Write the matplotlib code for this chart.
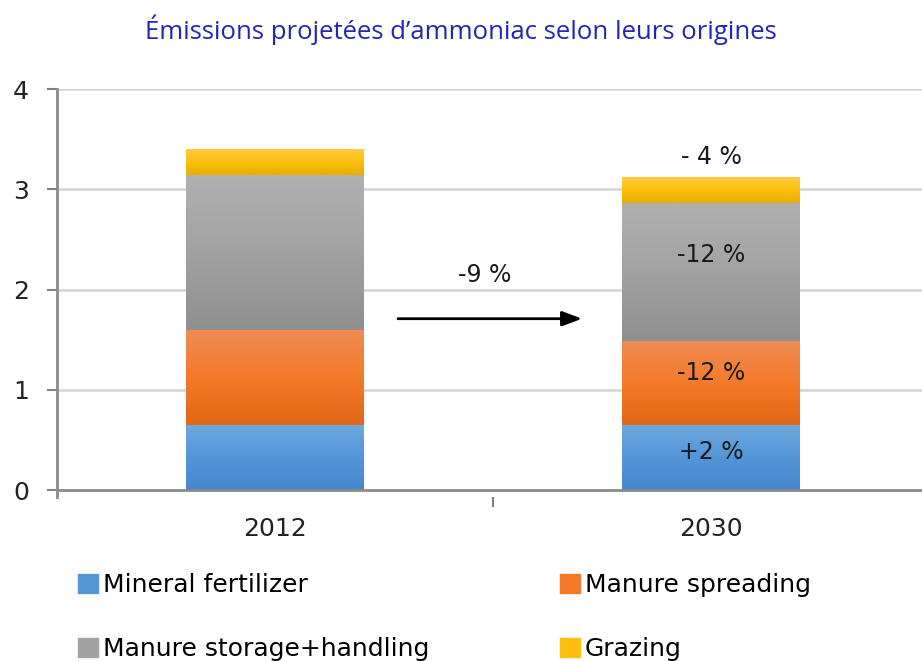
import matplotlib.pyplot as plt
import numpy as np
from matplotlib.colors import LinearSegmentedColormap
from matplotlib.patches import Rectangle

# === DONNÉES ===
annees = ["2012", "2030"]
sources = ["Mineral fertilizer", "Manure spreading", "Manure storage+handling", "Grazing"]
mineral = [0.65, 0.65]
epandage = [0.95, 0.84]
stockage = [1.54, 1.37]
paturage = [0.26, 0.26]
etiquettes_2030 = ["+2 %", "-12 %", "-12 %", "- 4 %"]
variation_totale = "-9 %"

# dégradés (haut -> bas)
degrades = [
    ["#6fa8de", "#5396d8", "#4487cb"],
    ["#f08c55", "#f47a2a", "#e26818"],
    ["#b0b0b0", "#a2a2a2", "#8f8f8f"],
    ["#ffcb45", "#fdc010", "#e9ae00"],
]
couleurs_legende = ["#5396d8", "#f47a2a", "#a2a2a2", "#fdc010"]

# === FIGURE ===
fig = plt.figure(figsize=(9.22, 6.61), dpi=100)
ax = fig.add_axes([0.0618, 0.248, 0.946, 0.617])

x = np.arange(len(annees))
largeur = 0.408
series = [mineral, epandage, stockage, paturage]
bas = np.zeros(len(annees))
for serie, deg in zip(series, degrades):
    cmap = LinearSegmentedColormap.from_list("g", deg[::-1])
    barres = ax.bar(x, serie, largeur, bottom=bas, color=deg[1], linewidth=0, zorder=2)
    for b in barres:
        x0, y0 = b.get_x(), b.get_y()
        x1, y1 = x0 + b.get_width(), y0 + b.get_height()
        grad = np.linspace(0, 1, 100).reshape(-1, 1)
        im = ax.imshow(grad, extent=[x0, x1, y0, y1], origin="lower", aspect="auto",
                       cmap=cmap, zorder=3)
        im.set_clip_path(b)
    bas += np.array(serie)

# étiquettes 2030
cumul = np.cumsum([s[1] for s in series])
debut = np.concatenate([[0], cumul[:-1]])
decalage = [0.05, 0.1, 0.17, 0.0]
for i, (lab, d, c) in enumerate(zip(etiquettes_2030, debut, cumul)):
    if i == 3:
        y = c + 0.2
    else:
        y = (d + c) / 2 + decalage[i]
    ax.text(x[1], y, lab, ha="center", va="center", fontsize=17, color="#1a1a1a",
            zorder=5)

# flèche
ax.annotate("", xy=(0.704, 1.71), xytext=(0.282, 1.71),
            arrowprops=dict(arrowstyle="-|>,head_length=1.2,head_width=0.45", color="black",
                            lw=2, shrinkA=0, shrinkB=0))
ax.text(0.48, 2.15, variation_totale, ha="center", va="center", fontsize=17, color="#1a1a1a")

# axes
ax.set_xlim(-0.5, 1.5)
ax.set_ylim(-0.07, 4)
ax.set_yticks([0, 1, 2, 3, 4])
ax.set_xticks(x)
ax.set_xticklabels(annees)
ax.set_xticks([0.5], minor=True)
ax.tick_params(axis="y", direction="out", length=7, width=1.5, color="#808080",
               labelsize=18, pad=13, labelcolor="#222222")
ax.tick_params(axis="x", which="major", length=0, labelsize=18, pad=14, labelcolor="#222222")
ax.tick_params(axis="x", which="minor", direction="out", length=7, width=1.5, color="#808080")
for v in [1, 2, 3, 4]:
    ax.axhline(v, color="#d4d4d4", lw=1.8, zorder=1)
ax.axhline(0, color="#8a8a8a", lw=2, zorder=4)
for s in ["top", "right", "bottom"]:
    ax.spines[s].set_visible(False)
ax.spines["left"].set_color("#8a8a8a")
ax.spines["left"].set_linewidth(2)

# légende
poignees = [Rectangle((0, 0), 1, 1, color=c) for c in couleurs_legende]
ordre = [0, 2, 1, 3]
fig.legend([poignees[i] for i in ordre], [sources[i] for i in ordre], ncol=2,
           loc="upper left", bbox_to_anchor=(0.074, 0.148), frameon=False,
           fontsize=18, handlelength=0.8, handleheight=0.8, handletextpad=0.2,
           columnspacing=5.2, labelspacing=1.6, borderaxespad=0)

fig.suptitle("Émissions projetées d’ammoniac selon leurs origines", x=0.5, y=0.978,
             fontsize=18.5, color="#2424b8", family="Open Sans")

fig.savefig("out.png", dpi=100)
